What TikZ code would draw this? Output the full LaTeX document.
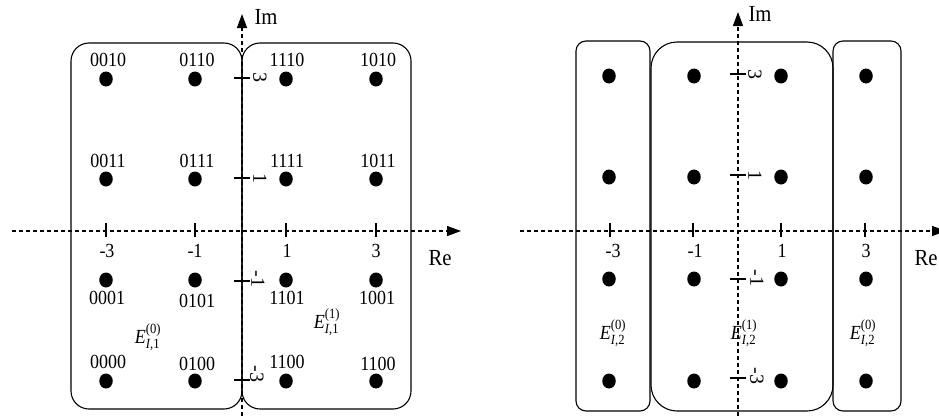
\documentclass[tikz,border=0pt]{standalone}
\usepackage{fontspec}
\usepackage{amsmath}
\setmainfont{Liberation Serif}
\usetikzlibrary{arrows.meta,shapes.geometric}
\newcommand{\Elab}[2]{\textit{E}$^{\text{(#1)}}_{\textit{I}\text{,#2}}$}
\begin{document}
\begin{tikzpicture}[x=1pt,y=-1pt,
  font=\fontsize{20}{22}\selectfont,
  dot/.style={ellipse,fill=black,draw=none,minimum width=13.5pt,minimum height=15pt,inner sep=0pt},
  axis/.style={dash pattern=on 4pt off 3pt,line width=1.2pt,-{Triangle[length=14pt,width=10pt]}},
  region/.style={draw,line width=1.1pt,inner sep=0pt},
  tickmark/.style={line width=1.2pt},
  lab/.style={inner sep=0pt,xscale=0.9},
  axlab/.style={inner sep=0pt,xscale=0.9,font=\fontsize{23}{25}\selectfont},
  rlab/.style={inner sep=0pt,rotate=-90}]
\useasboundingbox (0,0) rectangle (939,415);

% ---------------- left panel ----------------
\node[region,rounded corners=18pt,minimum width=171pt,minimum height=366pt] (L0) at (156.5,226) {};
\node[region,rounded corners=18pt,minimum width=169pt,minimum height=366pt] (L1) at (326.5,226) {};

\coordinate (lre0) at (12,231);
\coordinate (lre1) at (461,231);
\coordinate (lim0) at (242,416);
\coordinate (lim1) at (242,14);
\draw[axis] (lre0) -- (lre1);
\draw[axis] (lim0) -- (lim1);
\node[axlab] (lIm) at (266,17) {Im};
\node[axlab] (lRe) at (440,258) {Re};

\foreach \x in {106,195,286,376} \draw[tickmark] (\x,223) -- (\x,237);
\foreach \y in {78,178,281,380} \draw[tickmark] (234,\y) -- (250,\y);

\foreach \x [count=\i] in {106,195,286,376}
  \foreach \y [count=\j] in {79,179,280,381}
    \node[dot] (Ld\i\j) at (\x,\y) {};

\node[lab] (lx1) at (107,251) {-3};
\node[lab] (lx2) at (195,251) {-1};
\node[lab] (lx3) at (287,251) {1};
\node[lab] (lx4) at (376,251) {3};
\node[rlab] (ly1) at (260,77) {3};
\node[rlab] (ly2) at (260,178) {1};
\node[rlab] (ly3) at (258,279) {-1};
\node[rlab] (ly4) at (257,374) {-3};

\node[lab] (a11) at (108,60) {0010};
\node[lab] (a21) at (197,60) {0110};
\node[lab] (a31) at (287,60) {1110};
\node[lab] (a41) at (378,60) {1010};
\node[lab] (a12) at (108,161) {0011};
\node[lab] (a22) at (197,161) {0111};
\node[lab] (a32) at (287,161) {1111};
\node[lab] (a42) at (378,161) {1011};
\node[lab] (a13) at (107,298) {0001};
\node[lab] (a23) at (197,301) {0101};
\node[lab] (a33) at (287,298) {1101};
\node[lab] (a43) at (377,298) {1001};
\node[lab] (a14) at (108,362) {0000};
\node[lab] (a24) at (197,364) {0100};
\node[lab] (a34) at (287,362) {1100};
\node[lab] (a44) at (378,364) {1100};

\node[lab] (E0L) at (148,337) {\Elab{0}{1}};
\node[lab] (E1L) at (327,322) {\Elab{1}{1}};

% ---------------- right panel ----------------
\node[region,rounded corners=10pt,minimum width=74pt,minimum height=370pt] (R0) at (613,226) {};
\node[region,rounded corners=26pt,minimum width=182pt,minimum height=369pt] (R1) at (742,226.5) {};
\node[region,rounded corners=10pt,minimum width=68pt,minimum height=370pt] (R2) at (867,226) {};

\coordinate (rre0) at (520,231);
\coordinate (rre1) at (946,231);
\coordinate (rim0) at (738,416);
\coordinate (rim1) at (738,12);
\draw[axis] (rre0) -- (rre1);
\draw[axis] (rim0) -- (rim1);
\node[axlab] (rIm) at (760,14) {Im};
\node[axlab] (rRe) at (926,258) {Re};

\foreach \x in {610,693,781,865} \draw[tickmark] (\x,223) -- (\x,237);
\foreach \y in {74,175,279,378} \draw[tickmark] (730,\y) -- (746,\y);

\foreach \x [count=\i] in {609,694,781,866}
  \foreach \y [count=\j] in {76,177,279,381}
    \node[dot] (Rd\i\j) at (\x,\y) {};

\node[lab] (rx1) at (613,251) {-3};
\node[lab] (rx2) at (695,251) {-1};
\node[lab] (rx3) at (782,251) {1};
\node[lab] (rx4) at (866,251) {3};
\node[rlab] (ry1) at (755,74) {3};
\node[rlab] (ry2) at (755,175) {1};
\node[rlab] (ry3) at (757,278) {-1};
\node[rlab] (ry4) at (757,376) {-3};

\node[lab] (E0R) at (613,333) {\Elab{0}{2}};
\node[lab] (E1R) at (744,333) {\Elab{1}{2}};
\node[lab] (E2R) at (863,333) {\Elab{0}{2}};
\end{tikzpicture}
\end{document}
